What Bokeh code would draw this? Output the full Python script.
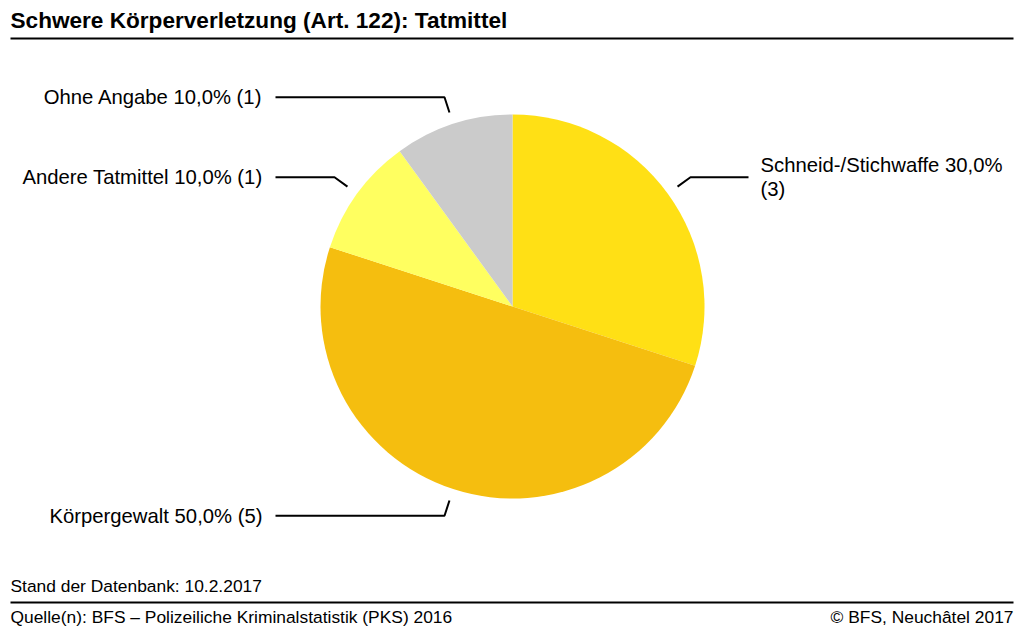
import math
from bokeh.plotting import figure
from bokeh.models import Range1d, ColumnDataSource
from bokeh.core.properties import value
from bokeh.embed import file_html
from bokeh.resources import INLINE

categories = ["Schneid-/Stichwaffe", "Körpergewalt", "Andere Tatmittel", "Ohne Angabe"]
counts = [3, 5, 1, 1]
colors = ["#FFE015", "#F5BE0F", "#FFFF60", "#CBCBCB"]
title = "Schwere Körperverletzung (Art. 122): Tatmittel"
stand = "Stand der Datenbank: 10.2.2017"
quelle = "Quelle(n): BFS – Polizeiliche Kriminalstatistik (PKS) 2016"
copyright_txt = "© BFS, Neuchâtel 2017"

W, H = 1024, 633
FONT = "Liberation Sans"
LABEL_SIZE = "20.3px"

p = figure(width=W, height=H, output_backend="svg", toolbar_location=None,
           x_range=Range1d(0, W), y_range=Range1d(0, H), min_border=0)
p.axis.visible = False
p.grid.visible = False
p.outline_line_color = None
p.background_fill_color = "white"
p.border_fill_color = "white"

def Y(ypx):
    return H - ypx

cx, cy, r = 512, Y(306), 192
total = sum(counts)
fr = [c / total for c in counts]
cum = [0.0]
for f in fr:
    cum.append(cum[-1] + f)
starts = [math.pi / 2 - cum[i] * 2 * math.pi for i in range(len(counts))]
ends = [math.pi / 2 - cum[i + 1] * 2 * math.pi for i in range(len(counts))]

src = ColumnDataSource(dict(start=starts, end=ends, color=colors))
p.wedge(x=cx, y=cy, radius=r, start_angle="start", end_angle="end",
        direction="clock", fill_color="color", line_color=None, source=src)

# leader lines and labels
for i, cat in enumerate(categories):
    mid = math.pi / 2 - (cum[i] + fr[i] / 2) * 2 * math.pi
    x1 = cx + 204 * math.cos(mid)
    y1 = cy + 204 * math.sin(mid)
    x2 = cx + 220 * math.cos(mid)
    y2 = cy + 220 * math.sin(mid)
    pct = f"{fr[i] * 100:.1f}".replace(".", ",")
    if x2 >= cx:
        x3 = 748
        p.line([x1, x2, x3], [y1, y2, y2], line_color="black", line_width=2)
        p.text(x=[760], y=[y2 + 12], text=[f"{cat} {pct}%"], text_font=value(FONT),
               text_font_size=LABEL_SIZE, text_baseline="middle", text_align="left",
               text_color="black")
        p.text(x=[760], y=[y2 - 12], text=[f"({counts[i]})"], text_font=value(FONT),
               text_font_size=LABEL_SIZE, text_baseline="middle", text_align="left",
               text_color="black")
    else:
        x3 = 275
        p.line([x1, x2, x3], [y1, y2, y2], line_color="black", line_width=2)
        p.text(x=[262], y=[y2], text=[f"{cat} {pct}% ({counts[i]})"], text_font=value(FONT),
               text_font_size=LABEL_SIZE, text_baseline="middle", text_align="right",
               text_color="black")

# title and rules
p.text(x=[10], y=[Y(20)], text=[title], text_font=value(FONT), text_font_size="22.6px",
       text_font_style="bold", text_baseline="middle", text_align="left", text_color="black")
p.line([10, 1013], [Y(38), Y(38)], line_color="black", line_width=2)

p.text(x=[10], y=[Y(585)], text=[stand], text_font=value(FONT), text_font_size="17.4px",
       text_baseline="middle", text_align="left", text_color="black")
p.line([10, 1013], [Y(602), Y(602)], line_color="black", line_width=2)
p.text(x=[10], y=[Y(616)], text=[quelle], text_font=value(FONT), text_font_size="17.4px",
       text_baseline="middle", text_align="left", text_color="black")
p.text(x=[1013], y=[Y(616)], text=[copyright_txt], text_font=value(FONT), text_font_size="17.4px",
       text_baseline="middle", text_align="right", text_color="black")

open("out.html", "w").write(file_html(p, INLINE))
